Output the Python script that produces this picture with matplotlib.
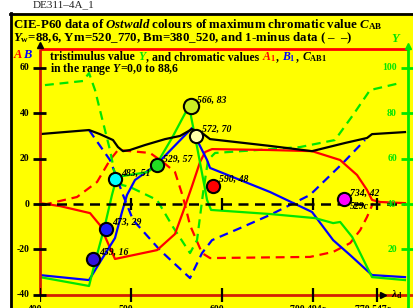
import matplotlib

matplotlib.use("Agg")

import matplotlib.pyplot as plt
from matplotlib.lines import Line2D
from matplotlib.patches import Rectangle

# chromatic value C_AB (left scale)
wl_black = [400, 454.4, 466.4, 480.7, 486.2, 491.7, 499.4, 515.9, 537.9, 554.3,
            567.5, 578.5, 587.3, 653.2, 699.3, 735.6, 759.7, 765.2, 801.4]
c_black = [30.8, 32.6, 30.8, 28.2, 25.1, 23.3, 23.8, 26.0, 28.6, 30.0,
           33.0, 31.3, 28.6, 25.6, 23.3, 26.9, 29.1, 30.8, 31.7]

# tristimulus Y (left scale = Y - 40)
wl_green = [400.5, 454.4, 461.0, 471.9, 479.6, 484.0, 490.6, 519.2, 528.0, 545.5, 564.2,
            574.1, 584.0, 588.4, 653.2, 702.7, 722.5, 730.2, 743.4, 765.2, 801.4]
y_green = [-32.2, -36.1, -25.6, -9.3, 4.0, 10.6, 12.3, 14.1, 17.2, 29.1, 43.2,
           22.9, 1.8, -2.6, -4.4, -6.2, -8.4, -7.9, -14.5, -32.2, -33.5]

# chromatic value B1
wl_blue = [400.5, 454.4, 466.4, 482.9, 490.6, 496.1, 504.9, 528.0, 567.5, 573.0,
           584.0, 587.3, 653.2, 699.3, 722.5, 741.2, 765.2, 801.4]
b_blue = [-31.3, -33.5, -25.6, -15.0, -3.5, 4.0, 10.6, 17.2, 33.5, 28.2,
          19.4, 15.9, 5.3, -3.5, -15.9, -22.5, -31.3, -32.2]

# chromatic value A1
wl_red = [400.5, 422.5, 455.5, 466.4, 482.9, 529.1, 548.8, 557.6, 567.5, 576.3,
          581.8, 589.5, 653.2, 699.3, 730.1, 748.7, 759.7, 765.2, 774.0, 801.4]
a_red = [0.4, -0.9, -4.0, -9.3, -24.2, -20.3, -13.2, -3.5, 7.9, 18.5,
         22.9, 24.2, 23.8, 23.3, 19.4, 12.8, 6.2, 1.8, 0.9, 0.4]

# 1-minus data
wl_green_m = [406.0, 447.8, 454.4, 461.0, 466.4, 471.9, 477.4, 482.9, 490.6, 499.4, 529.1,
              546.6, 565.3, 573.0, 579.6, 585.1, 592.8, 686.1, 724.5, 744.3, 763.0, 795.9]
y_green_m = [52.4, 54.2, 57.7, 50.2, 41.4, 32.6, 23.8, 12.8, 8.4, 7.5, 1.8,
             -10.1, -21.6, -15.9, 4.8, 19.4, 22.5, 25.1, 28.2, 39.2, 50.2, 53.3]

wl_blue_m = [454.4, 469.7, 477.4, 482.9, 491.7, 502.7, 532.3, 565.3, 578.5, 589.5,
             620.3, 653.2, 697.1, 733.3, 757.5]
b_blue_m = [32.6, 23.8, 19.4, 13.7, 4.0, -7.0, -20.3, -32.6, -21.6, -15.9,
            -10.6, -4.8, 4.0, 18.1, 28.2]

wl_red_m = [403.8, 441.2, 463.2, 477.4, 486.2, 521.4, 535.6, 548.8, 557.6, 565.3,
            578.5, 587.3, 697.1, 722.5, 741.2, 752.2, 759.7, 766.3]
a_red_m = [-0.4, 3.1, 9.7, 19.4, 23.8, 22.5, 18.5, 14.1, 3.1, -9.3,
           -21.6, -23.8, -23.3, -21.1, -17.2, -11.5, -5.7, 0.4]

# Ostwald colours (dominant wavelength, Y)
mark_wl = [566, 572, 529, 483, 590, 473, 459, 734]
mark_y = [83, 70, 57, 51, 48, 29, 16, 42]

left_ticks = [-40, -20, 0, 20, 40, 60]
right_ticks = [20, 40, 60, 80, 100]
x_ticks = [400, 500, 600, 700, 771]
x_labels = ["400", "500", "600", "700 494c", "770 547c"]

W, H = 413, 308
RED, GREEN, BLUE = "#ff0000", "#00e600", "#0000ff"
AXRED = "#d42000"

plt.rcParams.update({
    "font.family": "Liberation Serif",
    "font.weight": "bold",
    "mathtext.fontset": "custom",
    "mathtext.rm": "Liberation Serif:bold",
    "mathtext.it": "Liberation Serif:italic:bold",
    "mathtext.bf": "Liberation Serif:bold",
})

fig = plt.figure(figsize=(W / 100, H / 100), dpi=100)
fig.patch.set_facecolor("white")


def fx(px):
    return px / W


def fy(py):
    return 1 - py / H


fig.add_artist(Rectangle((fx(10), 0), 1, fy(13), transform=fig.transFigure,
                         facecolor="#ffff00", edgecolor="none", zorder=-2))
fig.add_artist(Line2D([fx(11), fx(11)], [0, fy(13)], transform=fig.transFigure,
                      color="black", lw=2, zorder=-1))
fig.add_artist(Line2D([fx(10), 1], [fy(13.5), fy(13.5)], transform=fig.transFigure,
                      color="black", lw=2, zorder=-1))

fig.text(fx(33), fy(7.5), "DE311\u20134A_1", fontsize=8, fontweight="normal",
         color="#222222", va="baseline")

renderer = fig.canvas.get_renderer()


def run_width(s, **kw):
    t1 = fig.text(0, 0, s + "|", **kw)
    t2 = fig.text(0, 0, "|", **kw)
    w = t1.get_window_extent(renderer).width - t2.get_window_extent(renderer).width
    t1.remove()
    t2.remove()
    return w


def text_runs(x_px, y_px, runs, size):
    x = x_px
    for s, color in runs:
        kw = dict(fontsize=size, fontweight="bold", va="baseline", ha="left")
        fig.text(fx(x), fy(y_px), s, color=color, **kw)
        x += run_width(s, **kw)


fig.text(fx(13), fy(28.5),
         r"CIE-P60 data of $\mathit{Ostwald}$ colours of maximum chromatic value $C_\mathrm{AB}$",
         fontsize=9.3, va="baseline")
fig.text(fx(13), fy(41.5),
         r"$Y_\mathrm{w}$=88,6, Ym=520_770, Bm=380_520, and 1-minus data ( " + "\u2013  \u2013)",
         fontsize=9.3, va="baseline")

text_runs(13, 58, [(r"$A$", RED), (r"$B$", BLUE)], 9)
text_runs(50, 60, [("tristimulus value ", "black"), (r"$Y$", GREEN),
                   (", and chromatic values ", "black"), (r"$A_1$", RED), (", ", "black"),
                   (r"$B_1$", BLUE), (", ", "black"), (r"$C_\mathrm{AB1}$", "black")], 8.5)
fig.text(fx(50), fy(72), r"in the range $Y$=0,0 to 88,6", fontsize=8.5, va="baseline")

# plot area: x in nm, y in left-scale units
ax = fig.add_axes([fx(39.5), 0, 1 - fx(39.5), fy(49)])
ax.set_xlim(400, 810.2)
ax.set_ylim(-45.8, 68.3)
ax.axis("off")

dash = dict(lw=1.6, dashes=(4, 2.6))
ax.plot(wl_red_m, a_red_m, color=RED, **dash)
ax.plot(wl_blue_m, b_blue_m, color=BLUE, **dash)
ax.plot(wl_green_m, y_green_m, color=GREEN, **dash)
ax.plot(wl_red, a_red, color=RED, lw=1.6)
ax.plot(wl_blue, b_blue, color=BLUE, lw=1.6)
ax.plot(wl_green, y_green, color=GREEN, lw=1.6)
ax.plot(wl_black, c_black, color="black", lw=1.6)

ax.hlines(0, 400, 801, color="black", lw=1.8, linestyles=(0, (4, 2.6)))
ax.vlines(x_ticks[1:], -2.7, 2.7, color="black", lw=1.6)

# axes frame
ax.vlines(400, -40, 68.3, color=AXRED, lw=2, clip_on=False)
ax.hlines(68.3, 400, 805, color=RED, lw=2, clip_on=False)
ax.hlines(-40, 400, 810.2, color=AXRED, lw=2, clip_on=False)
ax.plot([400], [70], marker="^", color="black", ms=5, clip_on=False)
ax.plot([777], [-40], marker=">", color="black", ms=5, clip_on=False)
ax.text(792, -40, r"$\lambda_\mathrm{d}$", fontsize=8, ha="center", va="center")
ax.vlines(x_ticks, -43, -37, color="black", lw=1.6)
for x, lab in zip(x_ticks, x_labels):
    ax.text(x - 5, -44.4, lab, fontsize=7, ha="center", va="top", clip_on=False)

ax.hlines(left_ticks, 392.9, 407.1, color="black", lw=2, clip_on=False)
for v in left_ticks:
    ax.text(388.5, v, str(v), fontsize=7, ha="right", va="center", clip_on=False)

ax.vlines(804.7, -45.8, 68.3, color=GREEN, lw=2, clip_on=False)
ax.plot([804.7], [69.5], marker="^", color=GREEN, ms=5, clip_on=False)
ax.text(791.5, 72.5, r"$Y$", color=GREEN, fontsize=9, ha="center", va="center", clip_on=False)

# right scale: Y
ax2 = ax.twinx()
ax2.set_ylim(-45.8 + 40, 68.3 + 40)
ax2.axis("off")
ax2.hlines(right_ticks, 797, 810.2, color=GREEN, lw=2, clip_on=False)
for v in right_ticks:
    ax2.text(792.6, v, str(v), color=GREEN, fontsize=7, ha="right", va="center")

mark_colors = ["#ccee22", "#ffffaa", "#22dd22", "#00ffff", "#ff0000", "#1a1aff", "#3311dd", "#ff00ff"]
for w, y, c in zip(mark_wl, mark_y, mark_colors):
    ms = 11 if y == max(mark_y) else 9.5
    ax2.plot([w], [y], "o", ms=ms, mfc=c, mec="black", mew=1.5, zorder=5)
    ax2.annotate(f"{w}, {y}", (w, y), xytext=(4.5, 4.5), textcoords="offset points",
                 fontsize=7, fontstyle="italic", va="center", zorder=6)
ax2.annotate("529c", (mark_wl[-1], mark_y[-1]), xytext=(4.5, -5), textcoords="offset points",
             fontsize=7, fontstyle="italic", va="center", zorder=6)

fig.savefig("out.png", dpi=100)
